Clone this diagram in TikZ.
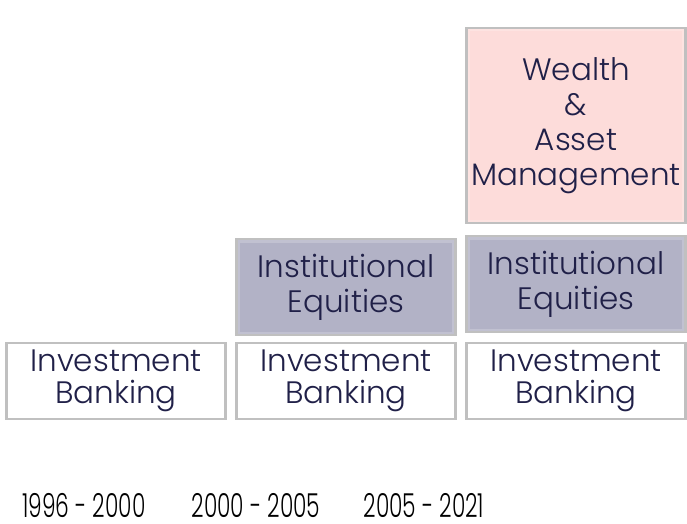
\documentclass[tikz,border=0pt]{standalone}
\usepackage{fontspec}
\setmainfont{Poppins}[UprightFont=* Light]
\newfontfamily\yearfont{Poppins}[UprightFont=* Light, FakeStretch=0.66]
\usetikzlibrary{positioning}

\definecolor{textnavy}{RGB}{32,32,72}
\definecolor{boxgray}{RGB}{192,192,192}
\definecolor{equitygray}{RGB}{178,178,198}
\definecolor{wealthpink}{RGB}{253,220,218}

\tikzset{
    segment/.style={draw=boxgray, line width=2.5pt, minimum width=219pt,
        align=center, text=textnavy, inner sep=0pt, outer sep=0pt,
        font=\fontsize{31}{32}\selectfont},
    bevel/.style={font=\fontsize{31}{35}\selectfont, path picture={
        \draw[white, opacity=.2, line width=7pt]
            (path picture bounding box.south west) rectangle
            (path picture bounding box.north east);}},
    banking/.style={segment, fill=white, minimum height=76pt},
    equities/.style={segment, bevel, fill=equitygray, minimum height=96pt},
    wealth/.style={segment, bevel, fill=wealthpink, minimum height=195pt},
    period/.style={anchor=base, inner sep=0pt,
        font=\yearfont\fontsize{33}{33}\selectfont}
}

\begin{document}
\begin{tikzpicture}[x=1pt, y=1pt]
        \useasboundingbox (0,0) rectangle (687,523);

        % bottom row
        \node[banking] (ib1) at (116,142) {Investment\\Banking};
        \node[banking, right=11pt of ib1] (ib2) {Investment\\Banking};
        \node[banking, right=11pt of ib2] (ib3) {Investment\\Banking};

        % stacked segments
        \node[equities, above=8pt of ib2] (ie2) {Institutional\\Equities};
        \node[equities, above=11pt of ib3] (ie3) {Institutional\\Equities};
        \node[wealth, above=14pt of ie3, yshift=-1pt] (wam3) {Wealth\\\&\\Asset\\Management};

        % periods
        \node[period] (yr1) at (84,6) {1996 - 2000};
        \node[period] (yr2) at (256,6) {2000 - 2005};
        \node[period] (yr3) at (424,6) {2005 - 2021};
    \end{tikzpicture}
\end{document}
